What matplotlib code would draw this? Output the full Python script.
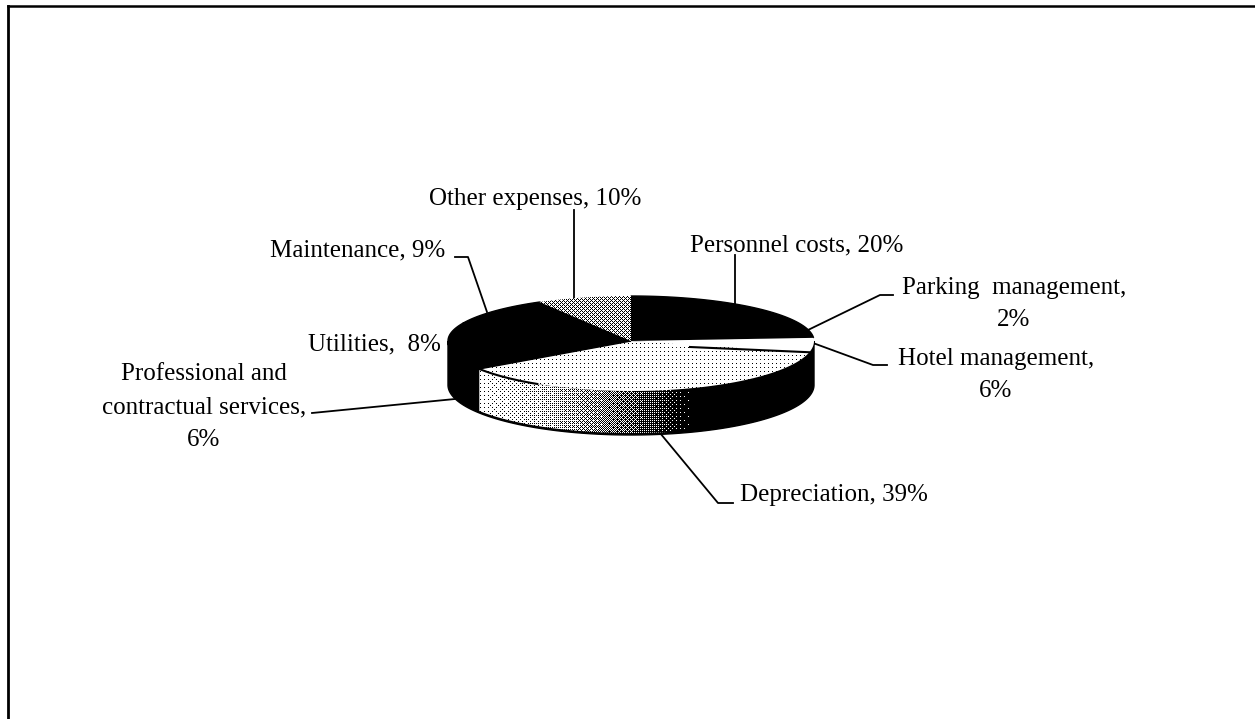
import numpy as np
import matplotlib
matplotlib.use('Agg')
import matplotlib.pyplot as plt
from matplotlib.patches import Polygon

# slices clockwise from 12 o'clock
categories = ['Personnel costs', 'Parking management', 'Hotel management', 'Depreciation',
              'Professional and contractual services', 'Utilities', 'Maintenance', 'Other expenses']
shares = [20, 2, 6, 39, 6, 8, 9, 10]
# grey level of each slice top
top_grey = [0.0, 1.0, 0.93, 0.93, 0.0, 0.0, 0.0, 0.62]

plt.rcParams['font.family'] = 'Liberation Serif'
W, H = 1255, 719
fig = plt.figure(figsize=(W / 100, H / 100), dpi=100)
ax = fig.add_axes([0, 0, 1, 1])
ax.set_xlim(0, W)
ax.set_ylim(H, 0)
ax.axis('off')

cx, cy = 631, 341
rx, ry_back, ry_front = 183, 45, 50
depth = 44

# the scanned pie is not a clean projection, so angles get nudged a bit
def warp(deg):
    return np.interp(deg, [0, 72, 79.2, 100.8, 241.2, 324, 360], [0, 86, 103, 118, 236, 330, 360])

def ellipse(t_deg):
    t = np.radians(t_deg)
    ry = np.where(np.cos(t) > 0, ry_back, ry_front)
    return cx + rx * np.sin(t), cy - ry * np.cos(t)

def rim(deg):
    return ellipse(warp(np.asarray(deg, dtype=float)))

# ordered dither, looks like the halftone of the scan
b2 = np.array([[0, 2], [3, 1]])
b4 = np.block([[4 * b2, 4 * b2 + 2], [4 * b2 + 3, 4 * b2 + 1]])
b8 = np.block([[4 * b4, 4 * b4 + 2], [4 * b4 + 3, 4 * b4 + 1]])
bayer = (b8 + 0.5) / 64
yy, xx = np.mgrid[0:H, 0:W]
thresh = bayer[yy % 8, xx % 8]

def dithered(grey, clip, z):
    img = (grey > thresh).astype(float)
    im = ax.imshow(img, cmap='gray', vmin=0, vmax=1, extent=(0, W, H, 0),
                   interpolation='nearest', zorder=z, aspect='auto')
    im.set_clip_path(clip)

edges = np.cumsum([0] + shares) * 3.6

# side wall, black all round the front
arc = np.linspace(90, 270, 200)
ex, ey = ellipse(arc)
wall = np.column_stack([np.r_[ex, ex[::-1]], np.r_[ey, ey[::-1] + depth]])
ax.add_patch(Polygon(wall, closed=True, fc='black', ec='black', lw=1, zorder=2))

# shaded part of the wall under Depreciation
arc = np.linspace(edges[3] + 40, edges[4], 150)
wx, wy = rim(arc)
shade = Polygon(np.column_stack([np.r_[wx, wx[::-1]], np.r_[wy, wy[::-1] + depth - 2]]),
                closed=True, fc='none', ec='none', transform=ax.transData)
ax.add_patch(shade)
ramp = np.interp(xx, [473, 540, 590, 640, 690], [0.95, 0.82, 0.6, 0.3, 0.0])
dithered(ramp, shade, 3)

# slice tops
for i in range(len(shares)):
    arc = np.linspace(edges[i], edges[i + 1], 60)
    sx, sy = rim(arc)
    pts = np.column_stack([np.r_[cx, sx], np.r_[cy, sy]])
    g = top_grey[i]
    if g == 0.0:
        ax.add_patch(Polygon(pts, closed=True, fc='black', ec='black', lw=1, zorder=4))
    elif g == 1.0:
        ax.add_patch(Polygon(pts, closed=True, fc='white', ec='none', zorder=5))
    else:
        p = Polygon(pts, closed=True, fc='none', ec='none', transform=ax.transData)
        ax.add_patch(p)
        dithered(np.full((H, W), g), p, 4)

# black line under the parking sliver and along the front rim
sx, sy = rim([edges[2], edges[2]])
ax.plot([cx + 59, sx[0]], [cy + 6, sy[0]], color='black', lw=1.5, zorder=6)
arc = np.linspace(edges[4], edges[4] - 30, 40)
sx, sy = rim(arc)
ax.plot(sx, sy, color='black', lw=1.5, zorder=6)

# frame: only top and left show in the scan
ax.plot([8, W], [6, 6], color='black', lw=1.8)
ax.plot([8, 8], [6, H], color='black', lw=2)

# leader lines
leaders = [
    ([574, 574], [210, 298]),
    ([735, 735], [255, 304]),
    ([455, 468, 487], [257, 257, 312]),
    ([312, 455], [413, 399]),
    ([808, 880, 893], [330, 295, 295]),
    ([813, 873, 887], [343, 365, 365]),
    ([660, 718, 733], [433, 503, 503]),
]
for lx, ly in leaders:
    ax.plot(lx, ly, color='black', lw=1.3, zorder=1)

fs = 18
def label(x, y, s, ha='center'):
    ax.text(x, y, s, fontsize=fs, ha=ha, va='center', color='black', linespacing=1.62, zorder=7)

label(535, 199, 'Other expenses, 10%')
label(797, 245, 'Personnel costs, 20%')
label(358, 250, 'Maintenance, 9%')
label(374, 344, 'Utilities,  8%')
label(204, 407, 'Professional and\ncontractual services,\n6%')
label(1014, 304, 'Parking  management,\n2%')
label(996, 375, 'Hotel management,\n6%')
label(834, 495, 'Depreciation, 39%')

fig.savefig('out.png', dpi=100)
